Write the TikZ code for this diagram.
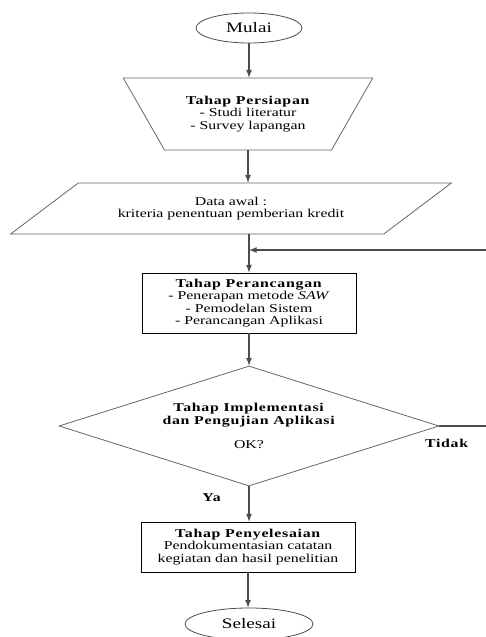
\documentclass[tikz,border=0pt]{standalone}
\usepackage{fontspec}
\setmainfont{Liberation Serif}[FakeStretch=1.32, BoldFeatures={LetterSpace=6}]
\usepackage{tikz}
\usetikzlibrary{arrows}
\usetikzlibrary{shapes.geometric}
\usetikzlibrary{positioning}
\definecolor{mgrey}{rgb}{0.3, 0.3, 0.3}
\definecolor{lgrey}{rgb}{0.4, 0.4, 0.4}
\tikzset{terminal/.style = {draw = mgrey, ellipse, line width = 0.8, inner sep = 0,
    font = \fontsize{14.5}{15}\selectfont}}
\tikzset{prepbox/.style = {draw = lgrey, trapezium, trapezium stretches = true,
    shape border rotate = 180, line width = 0.8, inner sep = 0, align = center}}
\tikzset{iobox/.style = {draw = lgrey, trapezium, trapezium stretches = true,
    trapezium left angle = 25, trapezium right angle = 155, line width = 0.8,
    inner sep = 0, align = center}}
\tikzset{procbox/.style = {draw, rectangle, line width = 0.9, inner sep = 0, align = center}}
\tikzset{decision/.style = {draw = lgrey, diamond, aspect = 3.17, line width = 0.8,
    inner sep = 0, align = center}}
\tikzset{flow/.style = {draw = mgrey, line width = 1.6, -latex}}
\tikzset{line/.style = {draw = mgrey, line width = 1.6}}

\begin{document}
\begin{tikzpicture}[x = 1pt, y = -1pt, font = \fontsize{12}{12.5}\selectfont]
    \useasboundingbox (0, 0) rectangle (486, 637);

    \node [terminal, minimum width = 106, minimum height = 30] (mulai) at (249, 28) {Mulai};
    \node [prepbox, minimum width = 250, minimum height = 72, trapezium angle = 49.5]
      (siap) at (248, 114) {\textbf{Tahap Persiapan}\\- Studi literatur\\- Survey lapangan};
    \node [iobox, minimum width = 442, minimum height = 51]
      (data) at (231, 208.5) {Data awal :\\kriteria penentuan pemberian kredit};
    \node [procbox, minimum width = 214, minimum height = 60] (rancang) at (249, 303)
      {\textbf{Tahap Perancangan}\\- Penerapan metode \textit{SAW}\\- Pemodelan Sistem\\- Perancangan Aplikasi};
    \node [decision, minimum width = 380, minimum height = 120] (uji) at (249, 426)
      {\textbf{Tahap Implementasi}\\\textbf{dan Pengujian Aplikasi}\\[12pt]OK?};
    \node [procbox, minimum width = 214, minimum height = 50] (selesai) at (248, 547)
      {\textbf{Tahap Penyelesaian}\\Pendokumentasian catatan\\kegiatan dan hasil penelitian};
    \node [terminal, minimum width = 128, minimum height = 32] (akhir) at (249, 624) {Selesai};

    \node (tidak) at (447, 443) {\textbf{Tidak}};
    \node (ya) at (212, 498) {\textbf{Ya}};

    \coordinate (j) at (249, 250);
    \coordinate (fb1) at (492, 426);
    \coordinate (fb2) at (492, 250);

    \draw [flow] (mulai.south) -- (mulai.south |- siap.north);
    \draw [flow] (siap.south) -- (siap.south |- data.north);
    \draw [line] (data.south -| j) -- (j);
    \draw [flow] (j) -- (j |- rancang.north);
    \draw [flow] (rancang.south) -- (uji.north);
    \draw [flow] (uji.south) -- (uji.south |- selesai.north);
    \draw [flow] (selesai.south) -- (selesai.south |- akhir.north);
    \draw [flow] (uji.east) -- (fb1) -- (fb2) -- (j);
  \end{tikzpicture}
\end{document}
